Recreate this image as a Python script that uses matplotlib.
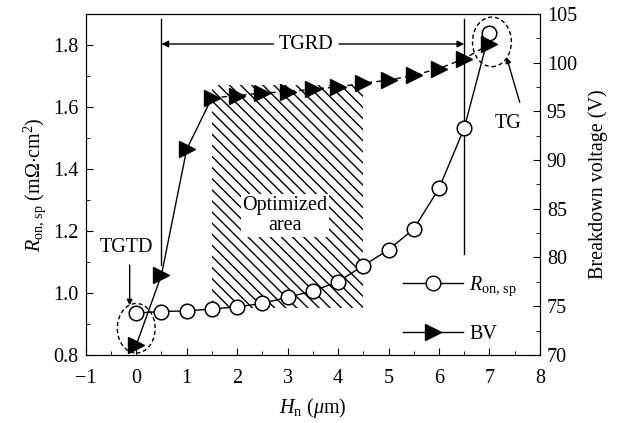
import numpy as np
import matplotlib
matplotlib.use("Agg")
import matplotlib.pyplot as plt
from matplotlib.patches import Ellipse, Rectangle
from matplotlib.lines import Line2D

plt.rcParams['font.family'] = ['Liberation Serif', 'DejaVu Serif']
plt.rcParams['mathtext.fontset'] = 'custom'
plt.rcParams['mathtext.rm'] = 'Liberation Serif'
plt.rcParams['mathtext.it'] = 'Liberation Serif:italic'
plt.rcParams['font.size'] = 14.5
plt.rcParams['hatch.linewidth'] = 1.0

# data
hn = [0, 0.5, 1, 1.5, 2, 2.5, 3, 3.5, 4, 4.5, 5, 5.5, 6, 6.5, 7]
ron = [0.935, 0.94, 0.942, 0.948, 0.955, 0.966, 0.986, 1.006, 1.036, 1.088,
       1.139, 1.206, 1.337, 1.531, 1.84]
bv = [71.0, 78.2, 91.1, 96.4, 96.6, 96.9, 97.0, 97.3, 97.5, 97.9,
      98.2, 98.7, 99.4, 100.4, 101.9]

fig = plt.figure(figsize=(6.17, 4.23), dpi=100)
ax = fig.add_axes([0.139, 0.161, 0.736, 0.806])
ax2 = ax.twinx()

# optimized area
ax.add_patch(Rectangle((1.5, 0.952), 3.0, 0.72, facecolor='none',
                       edgecolor='black', hatch='\\\\\\', linewidth=0, zorder=1))
ax.text(2.95, 1.25, 'Optimized\narea', ha='center', va='center',
        linespacing=1.1, zorder=2,
        bbox=dict(facecolor='white', edgecolor='none', pad=1))

ax.plot(hn, ron, '-', color='black', lw=1, marker='o', ms=10.5,
        mfc='white', mec='black', mew=1.1, zorder=5)

ax2.plot(hn[:4], bv[:4], '-', color='black', lw=1, zorder=4)
ax2.plot(hn[3:], bv[3:], color='black', lw=1, ls=(0, (4, 3)), zorder=4)
ax2.plot(hn, bv, ls='none', marker='>', ms=11.5, color='black', zorder=5)

# TGRD markers
ax.plot([0.5, 0.5], [1.885, 1.09], color='black', lw=1)
ax.plot([6.5, 6.5], [1.885, 1.125], color='black', lw=1)
ax.text(3.37, 1.803, 'TGRD', ha='center', va='center')
ax.annotate('', xy=(0.5, 1.803), xytext=(2.72, 1.803),
            arrowprops=dict(arrowstyle='-|>', color='black', lw=1,
                            mutation_scale=10, shrinkA=0, shrinkB=0))
ax.annotate('', xy=(6.5, 1.803), xytext=(4.02, 1.803),
            arrowprops=dict(arrowstyle='-|>', color='black', lw=1,
                            mutation_scale=10, shrinkA=0, shrinkB=0))

# TGTD
ax.text(-0.19, 1.145, 'TGTD', ha='center', va='center')
ax.annotate('', xy=(-0.13, 0.96), xytext=(-0.13, 1.09),
            arrowprops=dict(arrowstyle='-|>', color='black', lw=1,
                            mutation_scale=8, shrinkA=0, shrinkB=0))
ax.add_patch(Ellipse((0.0, 0.886), 0.75, 0.16, fill=False, ls=(0, (3, 2)),
                     lw=1, color='black', clip_on=False))

# TG
ax.add_patch(Ellipse((7.05, 1.81), 0.77, 0.16, fill=False, ls=(0, (3, 2)),
                     lw=1, color='black', clip_on=False))
ax.text(7.37, 1.547, 'TG', ha='center', va='center')
ax.annotate('', xy=(7.34, 1.76), xytext=(7.6, 1.615),
            arrowprops=dict(arrowstyle='-|>', color='black', lw=1,
                            mutation_scale=8, shrinkA=0, shrinkB=0))

ax.set_xlim(-1, 8)
ax.set_ylim(0.8, 1.9)
ax2.set_ylim(70, 105)
ax.set_xticks(np.arange(-1, 9, 1))
ax.set_xticklabels(['\u22121', '0', '1', '2', '3', '4', '5', '6', '7', '8'])
ax.set_xticks(np.arange(-0.5, 8, 1), minor=True)
ax.set_yticks(np.arange(0.8, 1.81, 0.2))
ax.set_yticks(np.arange(0.9, 1.91, 0.2), minor=True)
ax2.set_yticks(np.arange(70, 106, 5))
ax2.set_yticks(np.arange(72.5, 105, 5), minor=True)
for a in (ax, ax2):
    a.tick_params(which='both', direction='in', top=False, labelsize=14.5)
    a.tick_params(which='major', length=5, pad=5)
    a.tick_params(which='minor', length=3)
ax.tick_params(which='both', right=False)
ax.tick_params(axis='x', pad=10)

ax.set_xlabel(r'$H_\mathrm{n}$ ($\mu$m)', labelpad=6)
ax.set_ylabel(r'$R_\mathrm{on,\,sp}$ (m$\Omega$$\cdot$cm$^2$)')
ax2.set_ylabel('Breakdown voltage (V)', labelpad=8)

h1 = Line2D([], [], color='black', lw=1, marker='o', ms=10.5, mfc='white', mec='black')
h2 = Line2D([], [], color='black', lw=1, marker='>', ms=11.5)
ax2.legend([h1, h2], [r'$R_\mathrm{on,\,sp}$', 'BV'], loc='lower right',
           bbox_to_anchor=(0.99, -0.02), frameon=False, handlelength=3,
           labelspacing=1.3, handletextpad=0.3)

fig.savefig('out.png', dpi=100)
